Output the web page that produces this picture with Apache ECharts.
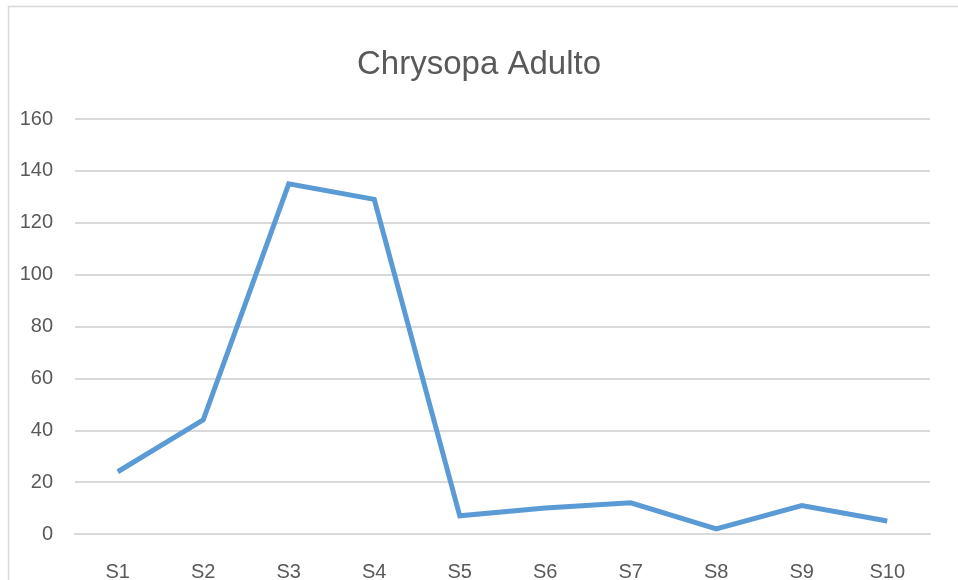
<!DOCTYPE html>
<html>
<head>
<meta charset="utf-8">
<script src="https://cdn.jsdelivr.net/npm/echarts@6/dist/echarts.min.js"></script>
<style>
  html, body { margin: 0; padding: 0; background: #fff; }
  #chart { width: 958px; height: 580px; }
</style>
</head>
<body>
<div id="chart"></div>
<script>
const categories = ['S1', 'S2', 'S3', 'S4', 'S5', 'S6', 'S7', 'S8', 'S9', 'S10']
const values = [24, 44, 135, 129, 7, 10, 12, 2, 11, 5]

const font = '"Liberation Sans", sans-serif'

const myChart = echarts.init(document.getElementById('chart'))

myChart.setOption({
  animation: false,
  graphic: [{
    type: 'rect',
    shape: { x: 8.5, y: 6.5, width: 1000, height: 700 },
    style: { fill: 'none', stroke: '#d9d9d9', lineWidth: 1.5 },
    silent: true
  }],
  title: {
    text: 'Chrysopa Adulto',
    left: 'center',
    top: 43,
    textStyle: { fontFamily: font, fontSize: 33, fontWeight: 'normal', color: '#595959' }
  },
  grid: { left: 75, right: 28, top: 119, bottom: 46, containLabel: false, outerBoundsMode: 'none' },
  xAxis: {
    type: 'category',
    data: categories,
    boundaryGap: true,
    axisLine: { lineStyle: { color: '#d9d9d9', width: 2 } },
    axisTick: { show: false },
    axisLabel: { fontFamily: font, fontSize: 20, color: '#595959', margin: 28 }
  },
  yAxis: {
    type: 'value',
    min: 0,
    max: 160,
    interval: 20,
    axisLine: { show: false },
    axisTick: { show: false },
    splitLine: { lineStyle: { color: '#d9d9d9', width: 2 } },
    axisLabel: { fontFamily: font, fontSize: 20, color: '#595959', margin: 22 }
  },
  series: [{
    type: 'line',
    data: values,
    showSymbol: false,
    lineStyle: { color: '#5b9bd5', width: 5, join: 'miter' },
    itemStyle: { color: '#5b9bd5' }
  }]
})
</script>
</body>
</html>
